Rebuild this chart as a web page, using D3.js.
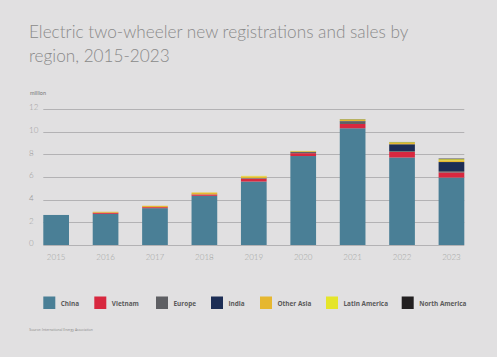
<!DOCTYPE html>
<html><head><meta charset="utf-8">
<script src="https://cdn.jsdelivr.net/npm/d3@7/dist/d3.min.js"></script>
<style>
html,body{margin:0;padding:0;background:#e1e0e1;}
svg{display:block;}
</style></head>
<body><svg id="c" width="497" height="357"></svg>
<script>
const years = ["2015","2016","2017","2018","2019","2020","2021","2022","2023"];
const seriesNames = ["China","Vietnam","Europe","India","Other Asia","Latin America","North America"];
const china        = [2.65, 2.75, 3.25, 4.34, 5.60, 7.85, 10.30, 7.72, 5.95];
const vietnam      = [0.00, 0.10, 0.09, 0.12, 0.25, 0.25, 0.38, 0.50, 0.45];
const europe       = [0.00, 0.00, 0.00, 0.01, 0.03, 0.10, 0.20, 0.07, 0.12];
const india        = [0.00, 0.00, 0.00, 0.00, 0.02, 0.02, 0.05, 0.60, 0.80];
const otherAsia    = [0.00, 0.08, 0.12, 0.15, 0.15, 0.06, 0.12, 0.12, 0.15];
const latinAmerica = [0.00, 0.00, 0.00, 0.02, 0.05, 0.02, 0.04, 0.06, 0.10];
const northAmerica = [0.00, 0.00, 0.00, 0.00, 0.00, 0.00, 0.02, 0.02, 0.05];
const yTicks = [0, 2, 4, 6, 8, 10, 12];
const colors = ["#4a7f96","#d8283f","#5e5f63","#1c2d55","#e6b730","#e5e52a","#221f20"];

const seriesValues = [china, vietnam, europe, india, otherAsia, latinAmerica, northAmerica];
const table = years.map((y, i) => {
  const row = {year: y};
  seriesNames.forEach((s, j) => row[s] = seriesValues[j][i]);
  return row;
});

const svg = d3.select("#c");
const x = d3.scaleBand().domain(years).range([43.3, 464.3]).paddingInner(0.48).paddingOuter(0);
const y = d3.scaleLinear().domain([0, 12]).range([245, 109]);

// title
const title = svg.append("text")
  .attr("font-family", "Lato, 'Open Sans', sans-serif").attr("font-weight", 300)
  .attr("font-size", 17.2).attr("fill", "#8a8a8a");
title.append("tspan").attr("x", 29).attr("y", 38).text("Electric two-wheeler new registrations and sales by");
title.append("tspan").attr("x", 29).attr("y", 61.5).text("region, 2015-2023");

svg.append("text").attr("x", 30).attr("y", 95).attr("font-family", "Lato, sans-serif")
  .attr("font-size", 5.5).attr("fill", "#777").text("million");

// grid + y labels
const yAxis = d3.axisLeft(y).tickValues(yTicks).tickSize(0).tickFormat(d3.format("d"));
const gy = svg.append("g").call(yAxis);
gy.select(".domain").remove();
gy.selectAll("text").attr("x", 29).attr("dy", "0.1em").attr("text-anchor", "start")
  .attr("font-family", "Lato, sans-serif").attr("font-weight", 300).attr("font-size", 8).attr("fill", "#9a9a9a");
svg.append("g").selectAll("line").data(yTicks).join("line")
  .attr("x1", 43.3).attr("x2", 464.3)
  .attr("y1", d => Math.round(y(d)) + 0.5).attr("y2", d => Math.round(y(d)) + 0.5)
  .attr("stroke", "#b3b2b4").attr("stroke-width", 1);

// bars
const stack = d3.stack().keys(seriesNames)(table);
svg.append("g").selectAll("g").data(stack).join("g")
  .attr("fill", (d, i) => colors[i])
  .selectAll("rect").data(d => d).join("rect")
  .attr("x", d => x(d.data.year)).attr("width", x.bandwidth())
  .attr("y", d => y(d[1])).attr("height", d => Math.max(0, y(d[0]) - y(d[1])));

// x labels
const xAxis = d3.axisBottom(x).tickSize(0);
const gx = svg.append("g").attr("transform", "translate(0,245)").call(xAxis);
gx.select(".domain").remove();
gx.selectAll("text").attr("y", 9).attr("dy", "0.71em")
  .attr("font-family", "Lato, sans-serif").attr("font-weight", 300).attr("font-size", 8).attr("fill", "#a0a0a0");

// legend
const legendX = [43.3, 94.3, 156, 211, 260, 326, 401.7];
const lg = svg.append("g").selectAll("g").data(seriesNames).join("g")
  .attr("transform", (d, i) => `translate(${legendX[i]},296.5)`);
lg.append("rect").attr("width", 12).attr("height", 12.5).attr("fill", (d, i) => colors[i]);
lg.append("text").attr("x", 17.5).attr("y", 9.2).attr("font-family", "'Open Sans', sans-serif")
  .attr("font-weight", 700).attr("font-size", 6.4).attr("fill", "#5a5a5a").text(d => d);

svg.append("text").attr("x", 29.3).attr("y", 330.5).attr("font-family", "'Open Sans', sans-serif")
  .attr("font-size", 3.4).attr("fill", "#888").text("Source: International Energy Association");
</script>
</body></html>
